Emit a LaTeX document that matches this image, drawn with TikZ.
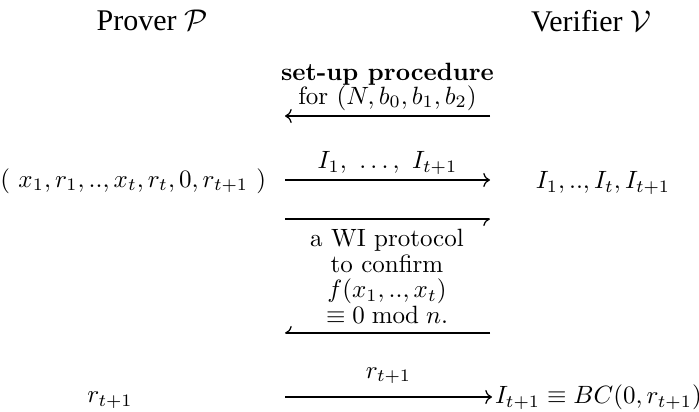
\documentclass[tikz,border=0pt]{standalone}
\usepackage{amsmath,amssymb}
\usepackage{fontspec}
\newfontfamily\titlefont{Liberation Serif}
\usetikzlibrary{arrows.meta,positioning}
\newcommand{\msgfont}{\fontsize{10pt}{9.4pt}\selectfont\lineskiplimit=-6pt\relax}
\newcommand{\wifont}{\fontsize{10pt}{10.2pt}\selectfont\lineskiplimit=-6pt\relax}

\begin{document}
\begin{tikzpicture}[
    x=0.4pt, y=-0.4pt,
    party/.style={font=\titlefont\large},
    msglabel/.style={align=center, font=\msgfont, inner sep=2pt},
    msg/.style={-{To}, line width=0.5pt},
    harpoon/.style={-{To[harpoon,swap]}, line width=0.5pt}
]
\useasboundingbox (0,0) rectangle (699,412);

\node[party] (P) at (152,20) {Prover $\mathcal{P}$};
\node[party] (V) at (591,21) {Verifier $\mathcal{V}$};

% message lanes
\coordinate (pSet) at (285,116); \coordinate (vSet) at (490,116);
\coordinate (pCom) at (285,180); \coordinate (vCom) at (490,180);
\coordinate (pWIa) at (285,219); \coordinate (vWIa) at (490,219);
\coordinate (pWIb) at (285,333); \coordinate (vWIb) at (490,333);
\coordinate (pOpen) at (285,397);
\coordinate (wiTop) at (387,219);

\node[anchor=east] (tuple) at (275,181) {$(\ x_1,r_1,..,x_t,r_t,0,r_{t+1}\ )$};
\node[anchor=west] (commit) at (527,183) {$I_1,..,I_t,I_{t+1}$};
\node (rP) at (110,400) {$r_{t+1}$};
\node[anchor=west, inner sep=1pt] (check) at (492,397) {$I_{t+1}\equiv BC(0,r_{t+1})$};

\draw[msg] (vSet) -- node[msglabel, above]{\textbf{set-up procedure}\\for $(N,b_0,b_1,b_2)$} (pSet);
\draw[msg] (pCom) -- node[msglabel, above]{$I_1,\ \ldots,\ I_{t+1}$} (vCom);
\draw[harpoon] (pWIa) -- (vWIa);
\draw[harpoon] (vWIb) -- (pWIb);
\node[msglabel, font=\wifont, below=2pt of wiTop] (wi) {a WI protocol\\to confirm\\$f(x_1,..,x_t)$\\$\equiv 0 \bmod n.$};
\draw[msg] (pOpen) -- node[msglabel, above=3pt]{$r_{t+1}$} (check);
\end{tikzpicture}
\end{document}
